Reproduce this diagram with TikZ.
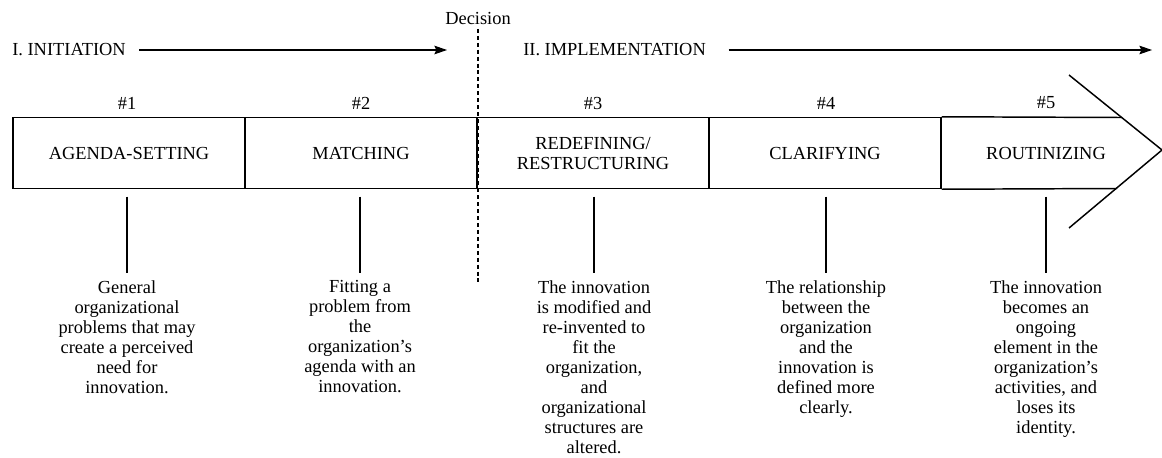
\documentclass[tikz,border=0pt]{standalone}
\usepackage{fontspec}
\setmainfont{Liberation Serif}
\usetikzlibrary{arrows.meta}

\begin{document}
\begin{tikzpicture}[x=0.75pt,y=-0.75pt,
  every node/.style={font=\fontsize{13.8}{15}\selectfont},
  phase/.style={inner sep=0pt, anchor=west},
  stagebox/.style={draw, line width=1.1pt, minimum width=174pt, minimum height=53.25pt, inner sep=0pt, align=center},
  desc/.style={anchor=north, align=center, inner sep=0pt},
  stem/.style={line width=1.1pt},
  flow/.style={line width=0.8pt, -{Stealth[length=9.5pt,width=6.5pt,inset=1.5pt]}},
  decline/.style={line width=0.8pt, dash pattern=on 3pt off 2.2pt}
]
\useasboundingbox (0,0) rectangle (1162,457);

% the two phases and the decision point
\node[phase] (init) at (12,50) {I.\ INITIATION};
\node[phase] (impl) at (523,50) {II.\ IMPLEMENTATION};
\coordinate (initEnd) at (447,50);
\coordinate (implEnd) at (1152,50);
\draw[flow] ([xshift=10pt]init.east) -- (initEnd);
\draw[flow] ([xshift=17pt]impl.east) -- (implEnd);

\node (dec) at (478,18) {Decision};
\coordinate (decEnd) at (478,283);
\draw[decline] (dec) -- (decEnd);

% stages
\foreach \i/\x/\txt in {1/129/AGENDA-SETTING, 2/361/MATCHING,
    3/593/{REDEFINING/\\RESTRUCTURING}, 4/825/CLARIFYING}
{
    \node[stagebox] (s\i) at (\x,153) {\txt};
}
\node[stagebox, draw=none] (s5) at (1046,153) {ROUTINIZING};

% open end of the last stage, with the big arrow head
\coordinate (topEnd) at (1122,117.5);
\coordinate (botEnd) at (1117,188.5);
\coordinate (tipTop) at (1069,75);
\coordinate (tip) at (1162,150);
\coordinate (tipBot) at (1069,228);
\draw[line width=1.1pt] (s4.north east) -- (topEnd);
\draw[line width=1.1pt] (s4.south east) -- (botEnd);
\draw[line width=1.1pt] (tipTop) -- (tip) -- (tipBot);

\foreach \i/\x in {1/127,2/361,3/593,4/826,5/1046}
{
    \node (n\i) at (\x,103) {\#\i};
}

% what happens in each stage
\node[desc] (d1) at (127,280) {General\\organizational\\problems that may\\create a perceived\\need for\\innovation.};
\node[desc] (d2) at (360,280) {Fitting a\\problem from\\the\\organization's\\agenda with an\\innovation.};
\node[desc] (d3) at (594,280) {The innovation\\is modified and\\re-invented to\\fit the\\organization,\\and\\organizational\\structures are\\altered.};
\node[desc] (d4) at (826,280) {The relationship\\between the\\organization\\and the\\innovation is\\defined more\\clearly.};
\node[desc] (d5) at (1046,280) {The innovation\\becomes an\\ongoing\\element in the\\organization's\\activities, and\\loses its\\identity.};

\foreach \i in {1,...,5}
{
    \draw[stem] ([yshift=-5.5pt]d\i.north |- s\i.south) -- ([yshift=5.5pt]d\i.north);
};

\end{tikzpicture}
\end{document}
